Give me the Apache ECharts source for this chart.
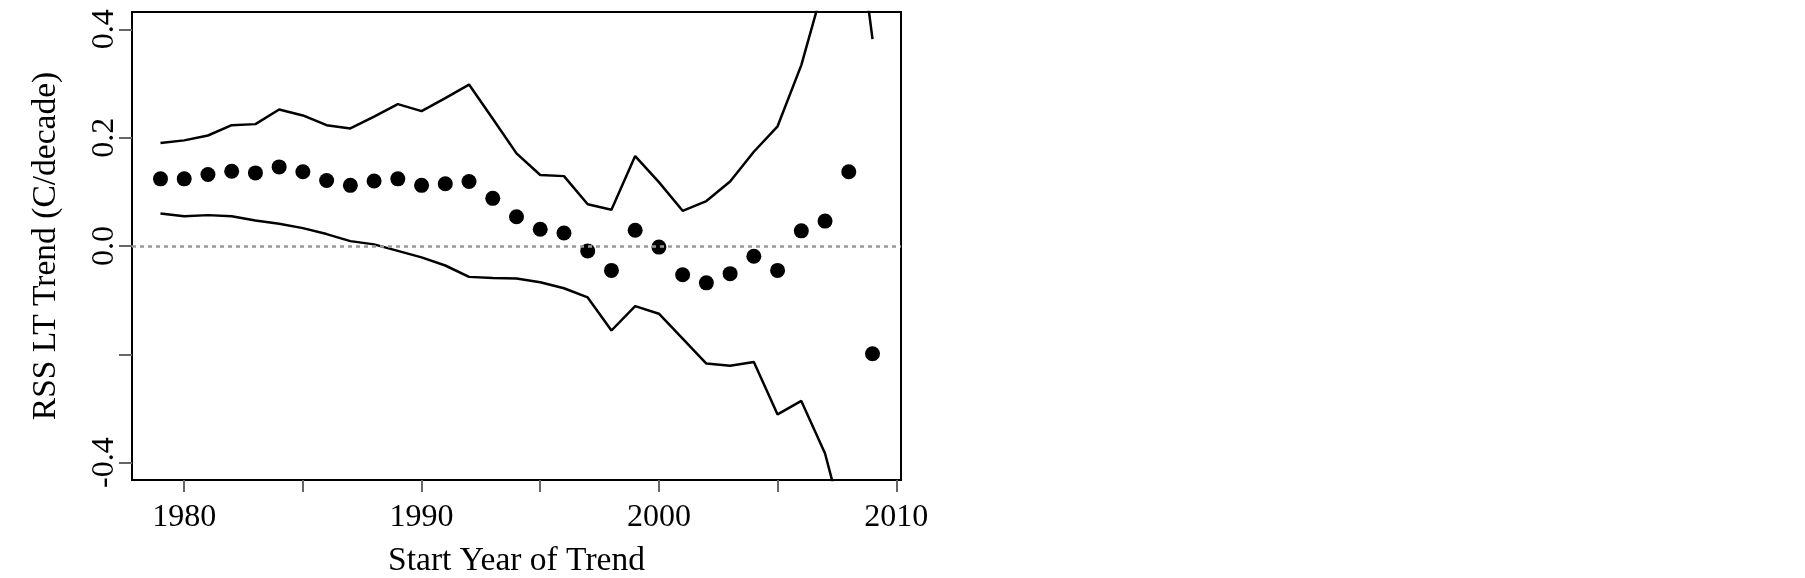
<!DOCTYPE html>
<html>
<head>
<meta charset="utf-8">
<script src="https://cdn.jsdelivr.net/npm/echarts@6/dist/echarts.min.js"></script>
<style>
  html, body { margin: 0; padding: 0; background: #fff; }
  #chart { width: 1805px; height: 578px; }
</style>
</head>
<body>
<div id="chart"></div>
<script>
const years = [1979, 1980, 1981, 1982, 1983, 1984, 1985, 1986, 1987, 1988, 1989, 1990, 1991, 1992, 1993, 1994,
  1995, 1996, 1997, 1998, 1999, 2000, 2001, 2002, 2003, 2004, 2005, 2006, 2007, 2008, 2009];
const trend = [0.124, 0.124, 0.132, 0.138, 0.135, 0.146, 0.137, 0.121, 0.112, 0.120, 0.124, 0.112, 0.115, 0.119, 0.088, 0.054,
  0.031, 0.024, -0.009, -0.045, 0.029, -0.002, -0.053, -0.068, -0.051, -0.019, -0.045, 0.028, 0.046, 0.137, -0.199];
const upper = [0.190, 0.195, 0.204, 0.223, 0.225, 0.252, 0.241, 0.223, 0.217, 0.239, 0.262, 0.249, 0.273, 0.298, 0.235, 0.171,
  0.131, 0.129, 0.077, 0.067, 0.166, 0.118, 0.065, 0.083, 0.119, 0.174, 0.221, 0.334, 0.49, 0.72, 0.382];
const lower = [0.060, 0.055, 0.057, 0.055, 0.047, 0.041, 0.033, 0.022, 0.009, 0.003, -0.009, -0.021, -0.036, -0.057, -0.059, -0.060,
  -0.067, -0.078, -0.095, -0.156, -0.111, -0.125, -0.171, -0.217, -0.221, -0.214, -0.311, -0.286, -0.383, -0.55, -0.78];

const xTicks = [1980, 1985, 1990, 1995, 2000, 2005, 2010];
const xLabels = [1980, 1990, 2000, 2010];
const yTicks = [-0.4, -0.2, 0, 0.2, 0.4];
const yLabels = [-0.4, 0, 0.2, 0.4];

const font = 'Liberation Serif';
const pairs = vals => years.map((y, i) => [y, vals[i]]);

const chart = echarts.init(document.getElementById('chart'));
chart.setOption({
  animation: false,
  grid: {
    left: 132, top: 12, right: 904, bottom: 98, outerBoundsMode: 'none',
    show: true, borderColor: '#000', borderWidth: 2, backgroundColor: 'transparent'
  },
  xAxis: {
    type: 'value', min: 1977.8, max: 2010.2,
    name: 'Start Year of Trend', nameLocation: 'middle', nameGap: 64,
    nameTextStyle: { fontFamily: font, fontSize: 33.5, color: '#000' },
    axisLine: { show: false, onZero: false },
    axisTick: { show: true, inside: false, length: 12, customValues: xTicks, lineStyle: { color: '#666', width: 2 } },
    axisLabel: {
      customValues: xLabels, fontFamily: font, fontSize: 32, color: '#000', margin: 22,
      formatter: v => String(v)
    },
    splitLine: { show: false }
  },
  yAxis: {
    type: 'value', min: -0.432, max: 0.432,
    name: 'RSS LT Trend (C/decade)', nameLocation: 'middle', nameRotate: 90, nameGap: 69,
    nameTextStyle: { fontFamily: font, fontSize: 33.5, color: '#000' },
    axisLine: { show: false, onZero: false },
    axisTick: { show: true, inside: false, length: 13, customValues: yTicks, lineStyle: { color: '#666', width: 2 } },
    axisLabel: {
      customValues: yLabels, rotate: 90, fontFamily: font, fontSize: 32, color: '#000', margin: 11,
      formatter: v => v.toFixed(1)
    },
    splitLine: { show: false }
  },
  series: [
    {
      type: 'line', data: pairs(upper), symbol: 'none', clip: true,
      lineStyle: { color: '#000', width: 2.5 }
    },
    {
      type: 'line', data: pairs(lower), symbol: 'none', clip: true,
      lineStyle: { color: '#000', width: 2.5 }
    },
    {
      type: 'scatter', data: pairs(trend), symbol: 'circle', symbolSize: 15,
      itemStyle: { color: '#000', opacity: 1 },
      markLine: {
        silent: true, symbol: 'none', label: { show: false },
        lineStyle: { color: '#999', width: 2.5, type: [4, 4] },
        data: [{ yAxis: 0 }]
      }
    }
  ]
});
</script>
</body>
</html>
